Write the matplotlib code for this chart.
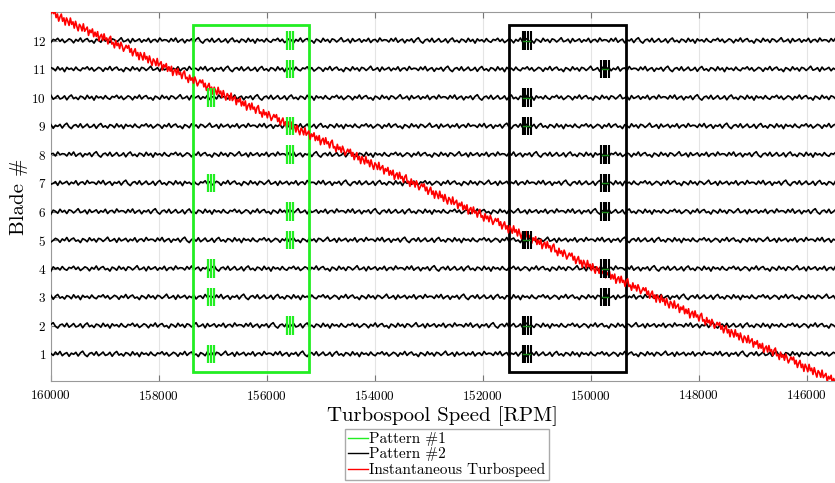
import numpy as np
import matplotlib
matplotlib.use('Agg')
import matplotlib.pyplot as plt
from matplotlib.lines import Line2D
from matplotlib.patches import Rectangle

plt.rcParams['font.family'] = ['cmr10', 'DejaVu Serif']
plt.rcParams['axes.formatter.use_mathtext'] = True
plt.rcParams['mathtext.fontset'] = 'cm'

# 叶片编号
blades = [1, 2, 3, 4, 5, 6, 7, 8, 9, 10, 11, 12]
# 模式1（绿色）出现的转速位置
pattern1_speed = [157040, 155570, 157040, 157040, 155570, 155570,
                  157040, 155570, 155570, 157040, 155570, 155570]
# 模式2（黑色）出现的转速位置
pattern2_speed = [151190, 151190, 149740, 149740, 151190, 149740,
                  149740, 149740, 151190, 151190, 149740, 151190]
# 两个方框的范围 (转速左, 转速右, 叶片下, 叶片上)
box1 = (157370, 155220, 0.37, 12.56)
box2 = (151520, 149350, 0.37, 12.56)
# 瞬时转速线的起点与终点
turbo_start = (160000, 12.95)
turbo_end = (145480, 0.05)

# 叶片信号的噪声样本（从图中估计的抖动幅度）
trace_noise = [0.02, -0.05, 0.07, -0.02, 0.09, -0.06, 0.01, 0.05, -0.08, 0.03,
               -0.01, 0.06, -0.07, 0.04, 0.10, -0.03, -0.09, 0.02, 0.05, -0.04,
               0.08, -0.06, 0.00, 0.07, -0.05, -0.02, 0.06, -0.08, 0.03, 0.09,
               -0.04, 0.01, -0.07, 0.05, 0.02, -0.06, 0.08, -0.03, 0.04, -0.09,
               0.06, -0.01, 0.03, -0.05, 0.07, -0.02, -0.06, 0.04, 0.01, 0.08,
               -0.03, 0.05, -0.07, -0.01, 0.06, 0.02, -0.08, 0.04, -0.02, 0.09,
               -0.05, 0.03, 0.07, -0.04, 0.00, -0.09, 0.05, 0.01, -0.06, 0.08,
               -0.02, 0.04, -0.07, 0.06, 0.03, -0.05, 0.02, 0.10, -0.04, -0.01,
               0.05, -0.08, 0.07, -0.03, 0.01, 0.06, -0.06, 0.03, -0.02, 0.08,
               -0.07, 0.02, 0.04, -0.05, 0.09, -0.01, 0.03]
# 转速曲线的噪声样本
turbo_noise = [0.00, 0.12, 0.04, 0.16, -0.06, 0.09, -0.14, 0.03, 0.15, -0.08,
               0.06, -0.17, 0.10, 0.01, -0.12, 0.16, -0.04, 0.07, -0.13, 0.13,
               -0.03, -0.16, 0.09, 0.04, -0.10, 0.17, -0.07, 0.03, 0.12, -0.15,
               0.06, -0.01, 0.14, -0.11, 0.07, -0.06, 0.13, -0.17, 0.01, 0.10,
               -0.09, 0.16, -0.03, 0.06, -0.13, 0.09, 0.18, -0.07, 0.00, -0.16,
               0.12, -0.04, 0.07, -0.10, 0.14, 0.03, -0.13]
# 爆发信号中竖线的偏移
burst1_dx = [-55, 0, 55]
burst2_dx = [-75, -25, 25, 75]
burst_half = 0.33

fig = plt.figure(figsize=(8.35, 4.83), dpi=100)
ax = fig.add_axes([0.061, 0.211, 0.939, 0.764])

# 叶片信号
xs = np.arange(160000, 145400, -42)
for i, b in enumerate(blades):
    shift = 13 * i
    noise = [trace_noise[(k + shift) % len(trace_noise)] for k in range(len(xs))]
    ax.plot(xs, b + np.array(noise), color='black', lw=1.2, zorder=3)

# 方框
for (x0, x1, y0, y1), c in [(box1, '#22ee22'), (box2, 'black')]:
    ax.add_patch(Rectangle((x0, y0), x1 - x0, y1 - y0, fill=False,
                           edgecolor=c, lw=2, zorder=4))

# 瞬时转速
xt = np.arange(turbo_start[0], turbo_end[0] - 1, -24)
yt = np.interp(xt[::-1], [turbo_end[0], turbo_start[0]],
               [turbo_end[1], turbo_start[1]])[::-1]
tn = [turbo_noise[k % len(turbo_noise)] for k in range(len(xt))]
ax.plot(xt, yt + np.array(tn), color='red', lw=1.2, zorder=5)

# 模式1与模式2的爆发
for b, s1, s2 in zip(blades, pattern1_speed, pattern2_speed):
    ax.vlines([s1 + d for d in burst1_dx], b - burst_half, b + burst_half,
              color='#22ee22', lw=1.6, zorder=6)
    ax.vlines([s2 + d for d in burst2_dx], b - burst_half, b + burst_half,
              color='black', lw=1.5, zorder=6)
    ax.plot([s2 - 60, s2 + 60], [b, b], color='#1a8a1a', lw=1.0, zorder=7)

ax.set_xlim(160000, 145480)
ax.set_ylim(0.05, 13.0)
ax.set_xticks([160000, 158000, 156000, 154000, 152000, 150000, 148000, 146000])
ax.set_yticks(blades)
ax.ticklabel_format(axis='x', useOffset=False, style='plain')
ax.tick_params(direction='in', top=True, right=False, labelsize=9.5,
               color='#777777', length=4)
ax.tick_params(axis='x', pad=6)
ax.grid(True, color='#e4e4e4', lw=0.8, zorder=0)
for side in ['left', 'bottom', 'top']:
    ax.spines[side].set_color('#999999')
ax.spines['right'].set_visible(False)

ax.set_xlabel('Turbospool Speed [RPM]', fontsize=15, labelpad=2)
ax.set_ylabel('Blade #', fontsize=15)
ax.yaxis.set_label_coords(-0.029, 0.5)

handles = [Line2D([], [], color='#22ee22', lw=1),
           Line2D([], [], color='black', lw=1),
           Line2D([], [], color='red', lw=1)]
fig.legend(handles, ['Pattern #1', 'Pattern #2', 'Instantaneous Turbospeed'],
           loc='upper center', bbox_to_anchor=(0.535, 0.112), fontsize=11,
           fancybox=False, edgecolor='#aaaaaa', framealpha=1,
           handlelength=1.3, handletextpad=0.1, labelspacing=0.1,
           borderpad=0.2, borderaxespad=0)

fig.savefig('out.png', dpi=100)
